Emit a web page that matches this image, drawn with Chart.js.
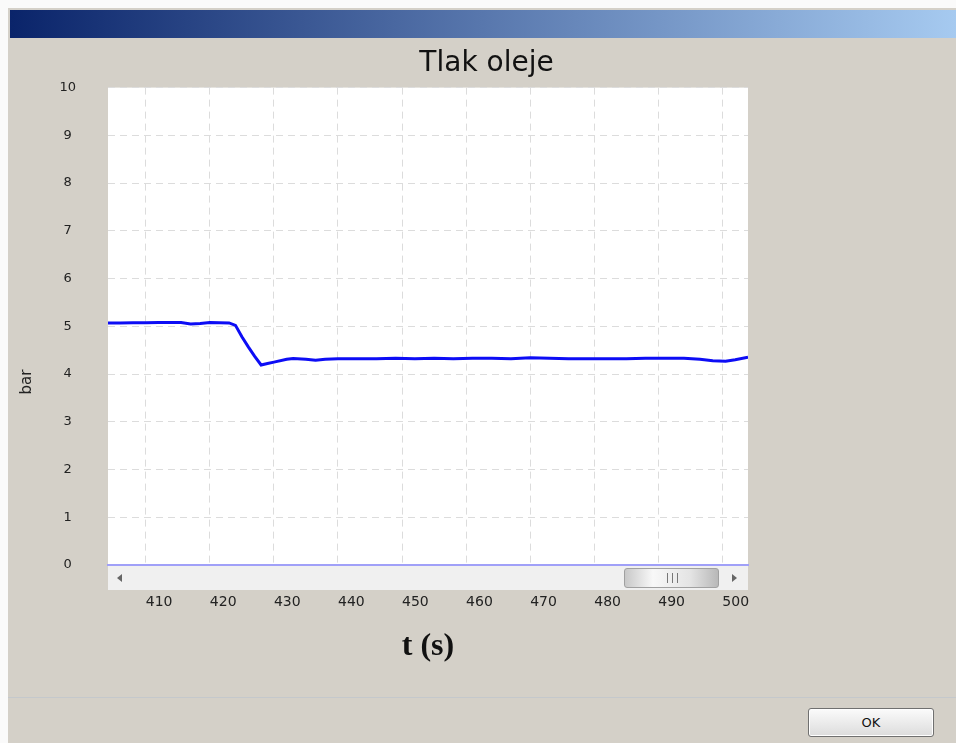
<!DOCTYPE html>
<html lang="cs">
<head>
    <meta charset="UTF-8">
    <title>Tlak oleje</title>
    <script src="https://cdn.jsdelivr.net/npm/chart.js@4"></script>
    <style>
        body { margin: 0; width: 956px; height: 743px; background: #fafafa; overflow: hidden; position: relative; font-family: "DejaVu Sans", sans-serif; }
        .okno { position: absolute; left: 8px; top: 8px; width: 948px; height: 735px; background: #d4d0c8; }
        .lista { position: absolute; left: 10px; top: 10px; width: 946px; height: 28px; background: linear-gradient(to right, #0a246a, #a6caf0); }
        .oddelovac { position: absolute; left: 8px; top: 697px; width: 948px; height: 1px; background: #c4c8cc; }
        #graf { position: absolute; left: 0; top: 0; z-index: 2; }
        .posuvnik { position: absolute; left: 108px; top: 566px; width: 640px; height: 24px; background: #f0f0f0; z-index: 3; }
        .sipka-l { position: absolute; left: 9px; top: 8px; width: 0; height: 0; border-top: 4px solid transparent; border-bottom: 4px solid transparent; border-right: 5px solid #666; }
        .sipka-p { position: absolute; left: 624px; top: 8px; width: 0; height: 0; border-top: 4px solid transparent; border-bottom: 4px solid transparent; border-left: 5px solid #666; }
        .jezdec { position: absolute; left: 516px; top: 2px; width: 93px; height: 18px; border: 1px solid #a0a0a0; border-radius: 3px;
                  background: linear-gradient(to right, #c8c8c8, #f8f8f8 30%, #e4e4e4 70%, #b8b8b8); }
        .jezdec span { position: absolute; left: 42px; top: 4px; width: 9px; height: 10px; border-left: 1px solid #777; border-right: 1px solid #777; }
        .jezdec span::after { content: ""; position: absolute; left: 4px; top: 0; width: 1px; height: 10px; background: #777; }
        .ok { position: absolute; left: 808px; top: 708px; width: 124px; height: 27px; border: 1px solid #707070; border-radius: 3px;
              background: linear-gradient(#fbfbfb, #dcdcdc); font: 13px "DejaVu Sans", sans-serif; color: #111; text-align: center; line-height: 27px; box-shadow: inset 0 0 0 1px #fff; }
    </style>
</head>
<body>
    <div class="okno"></div>
    <div class="lista"></div>
    <div class="oddelovac"></div>
    <canvas id="graf" width="956" height="743"></canvas>
    <div class="posuvnik">
        <div class="sipka-l"></div>
        <div class="jezdec"><span></span></div>
        <div class="sipka-p"></div>
    </div>
    <div class="ok">OK</div>

    <script>
        // data
        const casS = [404, 406, 408, 410, 412, 414, 415.5, 417, 418.5, 420, 421.5, 423, 424, 425, 426, 427, 428, 429, 430, 432, 433, 435, 436.5, 438, 440, 443, 446, 449, 452, 455, 458, 461, 464, 467, 470, 473, 476, 479, 482, 485, 488, 491, 494, 496.5, 498.5, 500.5, 502, 504];
        const tlakBar = [5.07, 5.07, 5.075, 5.075, 5.08, 5.08, 5.08, 5.05, 5.06, 5.08, 5.075, 5.07, 5.02, 4.78, 4.57, 4.37, 4.19, 4.22, 4.25, 4.31, 4.325, 4.31, 4.29, 4.31, 4.32, 4.32, 4.32, 4.33, 4.32, 4.33, 4.32, 4.33, 4.33, 4.32, 4.34, 4.33, 4.32, 4.32, 4.32, 4.32, 4.33, 4.33, 4.33, 4.31, 4.28, 4.27, 4.30, 4.35];
        const rozsahX = [404.1, 504];
        const rozsahY = [0, 10];
        const krokX = 10;
        const krokY = 1;

        const body = casS.map((t, i) => ({ x: t, y: tlakBar[i] }));

        // bílé pozadí plochy grafu + popisek osy y
        const pozadi = {
            id: 'pozadi',
            beforeDraw(chart) {
                const a = chart.chartArea;
                const ctx = chart.ctx;
                ctx.save();
                ctx.fillStyle = '#ffffff';
                ctx.fillRect(a.left, a.top, a.right - a.left, a.bottom - a.top);
                ctx.restore();
            },
            afterDraw(chart) {
                const ctx = chart.ctx;
                ctx.save();
                ctx.translate(27, 382);
                ctx.rotate(-Math.PI / 2);
                ctx.font = '15px "DejaVu Sans"';
                ctx.fillStyle = '#222';
                ctx.textAlign = 'center';
                ctx.textBaseline = 'middle';
                ctx.fillText('bar', 0, 0);
                ctx.restore();
            }
        };

        new Chart(document.getElementById('graf').getContext('2d'), {
            type: 'line',
            data: {
                datasets: [{
                    label: 'Tlak oleje',
                    data: body,
                    borderColor: '#0d0df5',
                    borderWidth: 3,
                    pointRadius: 0,
                    tension: 0,
                    fill: false
                }]
            },
            options: {
                responsive: false,
                animation: false,
                layout: { padding: { left: 17, right: 0, top: 40, bottom: 0 } },
                plugins: {
                    legend: { display: false },
                    tooltip: { enabled: false },
                    title: {
                        display: true,
                        text: 'Tlak oleje',
                        color: '#111',
                        font: { family: 'DejaVu Sans', size: 28, weight: 'normal' },
                        padding: { top: 7, bottom: 7 }
                    }
                },
                scales: {
                    x: {
                        type: 'linear',
                        min: rozsahX[0],
                        max: rozsahX[1],
                        afterFit: (s) => { s.height = 178; },
                        grid: { color: '#dcdcdc', drawTicks: false },
                        border: { color: '#a0a0f8', width: 2, dash: [7, 5] },
                        ticks: {
                            stepSize: krokX,
                            includeBounds: false,
                            align: 'start',
                            padding: 29,
                            color: '#222',
                            font: { family: 'DejaVu Sans', size: 14 }
                        },
                        title: {
                            display: true,
                            text: 't (s)',
                            color: '#111',
                            font: { family: 'Liberation Serif', size: 32, weight: 'bold' },
                            padding: { top: 0, bottom: 77 }
                        }
                    },
                    y: {
                        min: rozsahY[0],
                        max: rozsahY[1],
                        afterFit: (s) => { s.width = 91; },
                        grid: { color: '#dcdcdc', drawTicks: false },
                        border: { display: false, dash: [7, 5] },
                        ticks: {
                            stepSize: krokY,
                            crossAlign: 'center',
                            padding: 32,
                            color: '#222',
                            font: { family: 'DejaVu Sans', size: 13 }
                        }
                    },
                    // prázdné místo vpravo od grafu
                    yPravo: {
                        position: 'right',
                        min: rozsahY[0],
                        max: rozsahY[1],
                        afterFit: (s) => { s.width = 208; },
                        grid: { display: false },
                        border: { display: false },
                        ticks: { display: false }
                    }
                }
            },
            plugins: [pozadi]
        });
    </script>
</body>
</html>
